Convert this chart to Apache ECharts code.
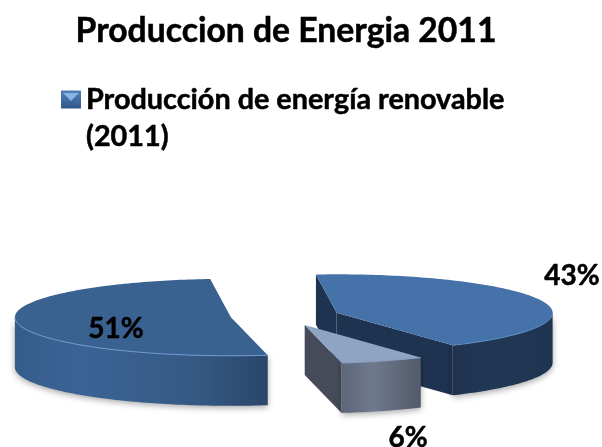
<!DOCTYPE html>
<html>
<head>
<meta charset="utf-8">
<style>html, body { margin: 0; padding: 0; background: #fff; } #main { width: 602px; height: 447px; }</style>
<script src="https://cdn.jsdelivr.net/npm/echarts@6/dist/echarts.min.js"></script>
</head>
<body>
<div id="main"></div>
<script>
var titleText = "Produccion de Energia 2011"
var seriesName = "Producción de energía renovable"
var seriesYear = "(2011)"
var categories = ["Renovable A", "Renovable B", "Renovable C"]
var values = [42.5, 6.3, 51.2]

// 3D look: the ellipse, its depth and how far the slices are pulled out
var cx = 285, cy = 316, rx = 216, ry = 38.5, depth = 50, explode = 54.6, startAngle = 95.5
var looks = [
	{top: "#4573a9", rim: "#5b8ac0", side: "#1e334f", label: [572, 275],
		wall: [[0, "#1f3350"], [0.4, "#213854"], [1, "#1f3450"]]},
	{top: "#8fa3c3", rim: "#8fa3c3", side: "#454b58", label: [408, 437],
		wall: [[0, "#5e6678"], [0.4, "#6f798e"], [1, "#535a6a"]]},
	{top: "#3a6290", rim: "#6c9ad0", side: "#2a4669", label: [116, 328],
		wall: [[0, "#355c8a"], [0.25, "#3a6496"], [0.7, "#365a85"], [1, "#2a4669"]]},
]
var heavy = {textBorderColor: "#000", textBorderWidth: 0.5}

function point(c, t, dy) { return [c[0]+rx*Math.cos(t), c[1]-ry*Math.sin(t)+(dy||0)] }
function arc(c, from, to, dy) { var list = [], n = Math.max(2, Math.ceil(Math.abs(to-from)/0.02))
	for (var i = 0; i <= n; i++) { list.push(point(c, from+(to-from)*i/n, dy)) } return list
}
function wallFace(c, t, look) { var p = point(c, t)
	return {type: "polygon", shape: {points: [c, p, [p[0], p[1]+depth], [c[0], c[1]+depth]]}, style: {fill: look.side}}
}

var total = values.reduce(function(a, b) { return a+b }, 0)
function renderSlice(params, api) { var i = params.dataIndex, look = looks[i], sum = 0
	for (var k = 0; k < i; k++) { sum += values[k] }
	// angles run clockwise from startAngle, the same way the slices are read
	var from = (startAngle-sum/total*360)*Math.PI/180, to = from-api.value(1)/total*2*Math.PI, mid = (from+to)/2
	var c = [cx+explode*Math.cos(mid), cy-explode*ry/rx*Math.sin(mid)], children = []

	// radial walls, only when they face the viewer
	if (Math.sin(from+Math.PI/2) < 0) { children.push(wallFace(c, from, look)) }
	if (Math.sin(to-Math.PI/2) < 0) { children.push(wallFace(c, to, look)) }

	// outer wall: the part of the arc on the front half of the ellipse
	var lo = Math.min(from, 0), hi = Math.max(to, -Math.PI)
	var upper = arc(c, lo, hi), lower = arc(c, hi, lo, depth), xs = upper.map(function(p) { return p[0] })
	var x0 = Math.min.apply(null, xs), x1 = Math.max.apply(null, xs), stops = look.wall.map(function(s) { return {offset: s[0], color: s[1]} })
	children.push({type: "polygon", shape: {points: upper.concat(lower)}, style: {
		fill: new echarts.graphic.LinearGradient(x0, 0, x1, 0, stops, true),
		shadowBlur: 6, shadowOffsetY: 2, shadowColor: "rgba(0,0,0,0.35)",
	}})

	// top face with a thin bevel line along the front rim
	children.push({type: "polygon", shape: {points: [c].concat(arc(c, from, to))}, style: {fill: look.top}})
	children.push({type: "polyline", shape: {points: arc(c, lo, hi)}, style: {fill: null, stroke: look.rim, lineWidth: 1}})
	children.push({type: "text", style: {text: Math.round(api.value(1)/total*100)+"%", x: look.label[0], y: look.label[1]+1, align: "center", verticalAlign: "middle",
		font: "bold 28px Lato", fill: "#000", stroke: "#000", lineWidth: 0.5}})
	return {type: "group", children: children}
}

var chart = echarts.init(document.getElementById("main"), null, {renderer: "canvas"})
chart.setOption({
	animation: false,
	backgroundColor: "#fff",
	title: {text: titleText, left: 281, top: 9, textAlign: "center", textStyle: Object.assign({fontFamily: "Lato", fontWeight: "bold", fontSize: 33.7, color: "#000"}, heavy)},
	legend: {left: 61, top: 44, padding: 0, itemWidth: 20, itemHeight: 18, itemGap: 0, icon: "rect", selectedMode: false,
		// the blank first line keeps the key level with the first line of text
		formatter: function(name) { return "\n"+name+"\n"+seriesYear },
		data: [{name: seriesName, itemStyle: {color: new echarts.graphic.LinearGradient(0, 0, 0, 1, [{offset: 0, color: "#4f7fb8"}, {offset: 0.5, color: "#3f6da5"}, {offset: 1, color: "#2f5687"}])}}],
		textStyle: Object.assign({fontFamily: "Lato", fontWeight: "bold", fontSize: 28.8, lineHeight: 37, color: "#000"}, heavy)},
	// lighter wedge inside the legend key
	graphic: [{type: "polygon", z: 100, zlevel: 1, shape: {points: [[63, 93], [79, 93], [71, 101]]}, style: {fill: "#8ab2e2"}, silent: true}],
	series: [{type: "custom", name: seriesName, coordinateSystem: "none", renderItem: renderSlice,
		data: categories.map(function(name, i) { return {name: name, value: [i, values[i]]} })}],
})
</script>
</body>
</html>
